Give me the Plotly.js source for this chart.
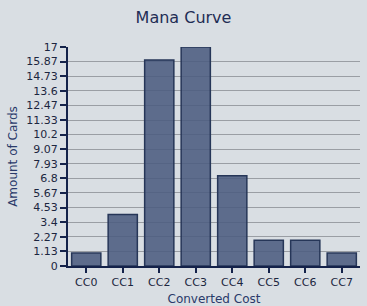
<!DOCTYPE html>
<html><head><meta charset="utf-8">
<script src="https://cdn.plot.ly/plotly-3.0.1.min.js"></script>
<style>html,body{margin:0;padding:0;background:#d9dee3;}</style>
</head><body>
<div id="chart" style="width:367px;height:306px;"></div>
<script>
const categories = ["CC0","CC1","CC2","CC3","CC4","CC5","CC6","CC7"];
const counts = [1,4,16,17,7,2,2,1];
const tickVals = [0,1.13,2.27,3.4,4.53,5.67,6.8,7.93,9.07,10.2,11.33,12.47,13.6,14.73,15.87,17];
const tickText = ["0","1.13","2.27","3.4","4.53","5.67","6.8","7.93","9.07","10.2","11.33","12.47","13.6","14.73","15.87","17"];

Plotly.newPlot('chart', [{
  type: 'bar', x: categories, y: counts,
  marker: {color: 'rgba(75,92,128,0.88)', line: {color: '#263658', width: 1.5}},
  hoverinfo: 'none'
}], {
  width: 367, height: 306,
  paper_bgcolor: '#d9dee3', plot_bgcolor: '#d9dee3',
  margin: {l: 68, r: 7, t: 47, b: 40},
  bargap: 0.2,
  font: {family: 'DejaVu Sans, Verdana, sans-serif', color: '#1c2640'},
  title: {text: 'Mana Curve', font: {size: 16, color: '#1f2d55'}, x: 0.5, xanchor: 'center', y: 0.944, yanchor: 'middle'},
  xaxis: {
    title: {text: 'Converted Cost', font: {size: 12, color: '#2a3a6a'}, standoff: 6},
    tickfont: {size: 11, color: '#1c2640'},
    ticks: 'outside', ticklen: 5, tickwidth: 2, tickcolor: '#14224a',
    showline: true, linecolor: '#14224a', linewidth: 2,
    showgrid: false, zeroline: false
  },
  yaxis: {
    title: {text: 'Amount of Cards', font: {size: 12, color: '#2a3a6a'}, standoff: 6},
    range: [0, 17], tickvals: tickVals, ticktext: tickText,
    tickfont: {size: 11, color: '#1c2640'},
    ticks: 'outside', ticklen: 6, tickwidth: 2, tickcolor: '#14224a',
    showline: true, linecolor: '#14224a', linewidth: 2,
    showgrid: true, gridcolor: '#9a9ea4', gridwidth: 1, zeroline: false
  },
  showlegend: false
}, {displayModeBar: false, staticPlot: true});
</script>
</body></html>
